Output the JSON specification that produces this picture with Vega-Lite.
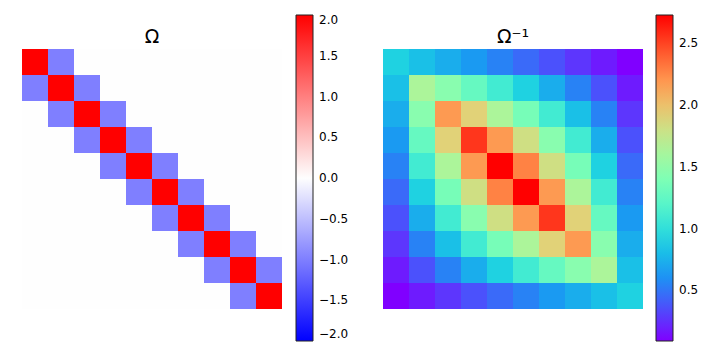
{
  "$schema": "https://vega.github.io/schema/vega-lite/v6.json",
  "padding": {"left": 22, "top": 15, "right": 0, "bottom": 0},
  "background": "white",
  "config": {"view": {"stroke": null}, "font": "DejaVu Sans"},
  "data": {"values": [
    {"r":1,"c":1,"o":2,"w":0.9091},{"r":1,"c":2,"o":-1,"w":0.8182},{"r":1,"c":3,"o":0,"w":0.7273},{"r":1,"c":4,"o":0,"w":0.6364},{"r":1,"c":5,"o":0,"w":0.5455},{"r":1,"c":6,"o":0,"w":0.4545},{"r":1,"c":7,"o":0,"w":0.3636},{"r":1,"c":8,"o":0,"w":0.2727},{"r":1,"c":9,"o":0,"w":0.1818},{"r":1,"c":10,"o":0,"w":0.0909},
    {"r":2,"c":1,"o":-1,"w":0.8182},{"r":2,"c":2,"o":2,"w":1.6364},{"r":2,"c":3,"o":-1,"w":1.4545},{"r":2,"c":4,"o":0,"w":1.2727},{"r":2,"c":5,"o":0,"w":1.0909},{"r":2,"c":6,"o":0,"w":0.9091},{"r":2,"c":7,"o":0,"w":0.7273},{"r":2,"c":8,"o":0,"w":0.5455},{"r":2,"c":9,"o":0,"w":0.3636},{"r":2,"c":10,"o":0,"w":0.1818},
    {"r":3,"c":1,"o":0,"w":0.7273},{"r":3,"c":2,"o":-1,"w":1.4545},{"r":3,"c":3,"o":2,"w":2.1818},{"r":3,"c":4,"o":-1,"w":1.9091},{"r":3,"c":5,"o":0,"w":1.6364},{"r":3,"c":6,"o":0,"w":1.3636},{"r":3,"c":7,"o":0,"w":1.0909},{"r":3,"c":8,"o":0,"w":0.8182},{"r":3,"c":9,"o":0,"w":0.5455},{"r":3,"c":10,"o":0,"w":0.2727},
    {"r":4,"c":1,"o":0,"w":0.6364},{"r":4,"c":2,"o":0,"w":1.2727},{"r":4,"c":3,"o":-1,"w":1.9091},{"r":4,"c":4,"o":2,"w":2.5455},{"r":4,"c":5,"o":-1,"w":2.1818},{"r":4,"c":6,"o":0,"w":1.8182},{"r":4,"c":7,"o":0,"w":1.4545},{"r":4,"c":8,"o":0,"w":1.0909},{"r":4,"c":9,"o":0,"w":0.7273},{"r":4,"c":10,"o":0,"w":0.3636},
    {"r":5,"c":1,"o":0,"w":0.5455},{"r":5,"c":2,"o":0,"w":1.0909},{"r":5,"c":3,"o":0,"w":1.6364},{"r":5,"c":4,"o":-1,"w":2.1818},{"r":5,"c":5,"o":2,"w":2.7273},{"r":5,"c":6,"o":-1,"w":2.2727},{"r":5,"c":7,"o":0,"w":1.8182},{"r":5,"c":8,"o":0,"w":1.3636},{"r":5,"c":9,"o":0,"w":0.9091},{"r":5,"c":10,"o":0,"w":0.4545},
    {"r":6,"c":1,"o":0,"w":0.4545},{"r":6,"c":2,"o":0,"w":0.9091},{"r":6,"c":3,"o":0,"w":1.3636},{"r":6,"c":4,"o":0,"w":1.8182},{"r":6,"c":5,"o":-1,"w":2.2727},{"r":6,"c":6,"o":2,"w":2.7273},{"r":6,"c":7,"o":-1,"w":2.1818},{"r":6,"c":8,"o":0,"w":1.6364},{"r":6,"c":9,"o":0,"w":1.0909},{"r":6,"c":10,"o":0,"w":0.5455},
    {"r":7,"c":1,"o":0,"w":0.3636},{"r":7,"c":2,"o":0,"w":0.7273},{"r":7,"c":3,"o":0,"w":1.0909},{"r":7,"c":4,"o":0,"w":1.4545},{"r":7,"c":5,"o":0,"w":1.8182},{"r":7,"c":6,"o":-1,"w":2.1818},{"r":7,"c":7,"o":2,"w":2.5455},{"r":7,"c":8,"o":-1,"w":1.9091},{"r":7,"c":9,"o":0,"w":1.2727},{"r":7,"c":10,"o":0,"w":0.6364},
    {"r":8,"c":1,"o":0,"w":0.2727},{"r":8,"c":2,"o":0,"w":0.5455},{"r":8,"c":3,"o":0,"w":0.8182},{"r":8,"c":4,"o":0,"w":1.0909},{"r":8,"c":5,"o":0,"w":1.3636},{"r":8,"c":6,"o":0,"w":1.6364},{"r":8,"c":7,"o":-1,"w":1.9091},{"r":8,"c":8,"o":2,"w":2.1818},{"r":8,"c":9,"o":-1,"w":1.4545},{"r":8,"c":10,"o":0,"w":0.7273},
    {"r":9,"c":1,"o":0,"w":0.1818},{"r":9,"c":2,"o":0,"w":0.3636},{"r":9,"c":3,"o":0,"w":0.5455},{"r":9,"c":4,"o":0,"w":0.7273},{"r":9,"c":5,"o":0,"w":0.9091},{"r":9,"c":6,"o":0,"w":1.0909},{"r":9,"c":7,"o":0,"w":1.2727},{"r":9,"c":8,"o":-1,"w":1.4545},{"r":9,"c":9,"o":2,"w":1.6364},{"r":9,"c":10,"o":-1,"w":0.8182},
    {"r":10,"c":1,"o":0,"w":0.0909},{"r":10,"c":2,"o":0,"w":0.1818},{"r":10,"c":3,"o":0,"w":0.2727},{"r":10,"c":4,"o":0,"w":0.3636},{"r":10,"c":5,"o":0,"w":0.4545},{"r":10,"c":6,"o":0,"w":0.5455},{"r":10,"c":7,"o":0,"w":0.6364},{"r":10,"c":8,"o":0,"w":0.7273},{"r":10,"c":9,"o":-1,"w":0.8182},{"r":10,"c":10,"o":2,"w":0.9091}
  ]},
  "bounds": "flush",
  "spacing": 101,
  "hconcat": [
    {
      "width": 260, "height": 260,
      "title": {"text": "Ω", "fontSize": 19, "fontWeight": "normal", "font": "DejaVu Sans", "baseline": "alphabetic", "offset": -47, "color": "black"},
      "mark": {"type": "rect", "strokeWidth": 0},
      "encoding": {
        "x": {"field": "c", "type": "ordinal", "axis": null, "scale": {"paddingInner": 0, "paddingOuter": 0}},
        "y": {"field": "r", "type": "ordinal", "axis": null, "scale": {"paddingInner": 0, "paddingOuter": 0}},
        "color": {"field": "o", "type": "quantitative",
          "scale": {"domain": [-2, 0, 2], "range": ["#0000ff", "#fefefe", "#ff0000"], "interpolate": "rgb"},
          "legend": {"orient": "none", "legendX": 274, "legendY": -34, "title": null, "padding": 0,
            "gradientLength": 326, "gradientThickness": 17, "gradientStrokeColor": "#222222", "gradientStrokeWidth": 1,
            "values": [-2, -1.5, -1, -0.5, 0, 0.5, 1, 1.5, 2], "format": ".1f", "labelOverlap": false,
            "labelFont": "DejaVu Sans", "labelFontSize": 12, "labelColor": "black", "labelOffset": 6, "direction": "vertical"}}
      }
    },
    {
      "width": 260, "height": 260,
      "title": {"text": "Ω⁻¹", "fontSize": 19, "fontWeight": "normal", "font": "DejaVu Sans", "baseline": "alphabetic", "offset": -47, "color": "black"},
      "mark": {"type": "rect", "strokeWidth": 0},
      "encoding": {
        "x": {"field": "c", "type": "ordinal", "axis": null, "scale": {"paddingInner": 0, "paddingOuter": 0}},
        "y": {"field": "r", "type": "ordinal", "axis": null, "scale": {"paddingInner": 0, "paddingOuter": 0}},
        "color": {"field": "w", "type": "quantitative",
          "scale": {"domain": [0.0909, 0.3545, 0.6182, 0.8818, 1.1455, 1.4091, 1.6727, 1.9364, 2.2, 2.4636, 2.7273],
            "range": ["#8000ff", "#4d4ffc", "#1a96f3", "#1acee3", "#4df3ce", "#80ffb4", "#b3f396", "#e6ce74", "#ff964f", "#ff4f28", "#ff0000"], "interpolate": "rgb"},
          "legend": {"orient": "none", "legendX": 273, "legendY": -34, "title": null, "padding": 0,
            "gradientLength": 326, "gradientThickness": 17, "gradientStrokeColor": "#222222", "gradientStrokeWidth": 1,
            "values": [0.5, 1, 1.5, 2, 2.5], "format": ".1f", "labelOverlap": false,
            "labelFont": "DejaVu Sans", "labelFontSize": 12, "labelColor": "black", "labelOffset": 6, "direction": "vertical"}}
      }
    }
  ],
  "resolve": {"scale": {"color": "independent"}, "legend": {"color": "independent"}}
}
